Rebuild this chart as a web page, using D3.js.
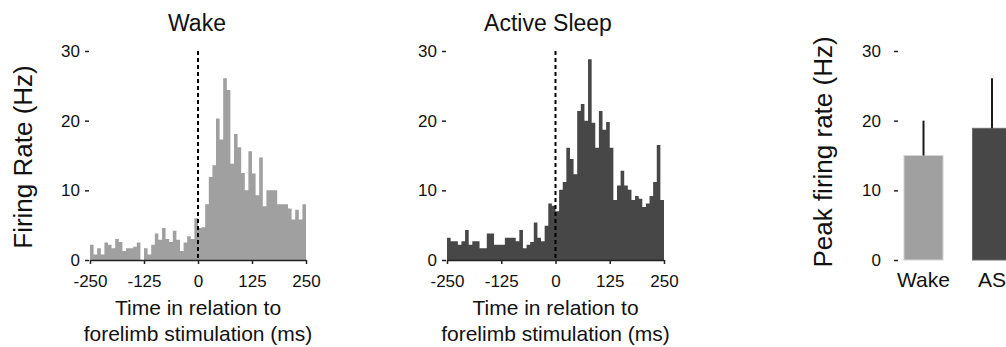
<!DOCTYPE html>
<html lang="en">
  <head>
    <meta charset="utf-8">
    <title>Firing rate</title>
    <script src="https://cdn.jsdelivr.net/npm/d3@7"></script>
    <style>
      body { margin: 0; background: #fff; }
      svg text { font-family: 'Liberation Sans', Arial, sans-serif; fill: #111; }
    </style>
  </head>

  <body>
    <div id='main-chart'></div>

    <script type='text/javascript'>
      // firing rate per bin (60 bins from -250 to 250 ms)
      let wake_rates = [
        2.2, 0.8, 1.7, 0.8, 2.5, 2.2, 1.7, 3.0, 2.6, 1.3,
        1.7, 1.7, 1.9, 2.5, 0.0, 1.7, 0.8, 2.2, 3.8, 2.9,
        4.6, 3.0, 2.6, 4.2, 2.9, 1.3, 2.5, 3.4, 3.0, 6.0,
        4.6, 4.7, 8.0, 11.9, 13.6, 20.3, 17.3, 26.1, 24.4, 13.8,
        18.1, 16.2, 12.5, 10.0, 15.6, 12.4, 9.3, 14.7, 7.7, 10.0,
        10.0, 10.0, 8.0, 8.0, 8.0, 7.4, 5.8, 7.2, 5.8, 8.0
      ]
      let as_rates = [
        3.2, 2.7, 2.7, 2.2, 2.7, 4.3, 2.2, 2.7, 2.7, 1.7,
        1.7, 3.8, 3.8, 2.2, 2.2, 2.2, 3.2, 3.2, 3.2, 2.7,
        4.3, 1.7, 2.2, 2.6, 5.4, 3.2, 2.7, 4.9, 8.1, 7.8,
        7.0, 10.1, 11.2, 16.1, 14.5, 12.3, 21.4, 22.4, 20.0, 28.8,
        19.7, 16.1, 21.4, 18.7, 19.8, 16.1, 8.6, 10.7, 12.8, 10.7,
        10.1, 8.6, 9.2, 8.8, 7.6, 8.1, 9.2, 11.2, 16.5, 8.6
      ]
      let time_ticks = [-250, -125, 0, 125, 250]
      let rate_ticks = [0, 10, 20, 30]

      // peak firing rate summary
      let states = ['Wake', 'AS']
      let peak_means = [15.0, 18.9]
      let peak_errors = [5.0, 7.2]

      let width = 1006
      let height = 347
      let bin_width = 500 / 60

      let canvas = d3.select('#main-chart').append('svg')
        .attr('width', width)
        .attr('height', height)

      let scale_y = d3.scaleLinear()
        .domain([0, 30])
        .range([260, 51])

      function draw_histogram(rates, left, right, colour, title, title_x) {
        let scale_x = d3.scaleLinear()
          .domain([-250, 250])
          .range([left, right])

        let g = canvas.append('g')

        // one path per histogram so neighbouring bins don't leave seams
        let outline = d3.path()
        outline.moveTo(scale_x(-250), scale_y(0))
        rates.forEach((d, i) => {
          outline.lineTo(scale_x(-250 + i * bin_width), scale_y(d))
          outline.lineTo(scale_x(-250 + (i + 1) * bin_width), scale_y(d))
        })
        outline.lineTo(scale_x(250), scale_y(0))
        outline.closePath()

        g.append('path')
          .attr('d', outline.toString())
          .style('fill', colour)

        // stimulation onset
        g.append('line')
          .attr('x1', scale_x(0))
          .attr('x2', scale_x(0))
          .attr('y1', scale_y(30))
          .attr('y2', scale_y(0))
          .attr('stroke', '#000')
          .attr('stroke-width', 2)
          .attr('stroke-dasharray', '4,3')

        let x_axis = d3.axisBottom(scale_x)
          .tickValues(time_ticks)
          .tickFormat((d) => String(d))
          .tickSize(4)
          .tickSizeOuter(0)
          .tickPadding(11)
        let xg = g.append('g')
          .attr('transform', 'translate(0,' + scale_y(0) + ')')
          .call(x_axis)
        xg.selectAll('path,line').attr('stroke', '#222').attr('stroke-width', 1.5)
        xg.selectAll('text').attr('font-size', '17px').attr('fill', '#111')

        let y_axis = d3.axisLeft(scale_y)
          .tickValues(rate_ticks)
          .tickSize(4)
          .tickPadding(5)
        let yg = g.append('g')
          .attr('transform', 'translate(' + (left - 1) + ',0)')
          .call(y_axis)
        yg.select('.domain').remove()
        yg.selectAll('line').attr('stroke', '#222').attr('stroke-width', 1.5)
        yg.selectAll('text').attr('font-size', '17px').attr('fill', '#111')

        g.append('text')
          .attr('x', title_x)
          .attr('y', 31)
          .attr('text-anchor', 'middle')
          .attr('font-size', '23px')
          .text(title)

        let mid = (left + right) / 2
        g.append('text')
          .attr('x', mid)
          .attr('y', 315)
          .attr('text-anchor', 'middle')
          .attr('font-size', '21px')
          .text('Time in relation to')
        g.append('text')
          .attr('x', mid)
          .attr('y', 341)
          .attr('text-anchor', 'middle')
          .attr('font-size', '21px')
          .text('forelimb stimulation (ms)')
      }

      draw_histogram(wake_rates, 90, 306, '#a0a0a0', 'Wake', 197)
      draw_histogram(as_rates, 447, 664, '#474747', 'Active Sleep', 548)

      canvas.append('text')
        .attr('transform', 'translate(32,157) rotate(-90)')
        .attr('text-anchor', 'middle')
        .attr('font-size', '26px')
        .text('Firing Rate (Hz)')

      // peak firing rate bar chart
      let scale_band = d3.scaleBand()
        .domain(states)
        .range([889.25, 1026.25])
        .paddingInner(0.43)
        .paddingOuter(0.215)

      let bar_colours = ['#a0a0a0', '#474747']
      let bar_edges = ['#d4d4d4', '#6a6a6a']
      let peaks = states.map((s, i) => ({state: s, mean: peak_means[i], err: peak_errors[i], i: i}))

      canvas.selectAll('.peak-bar')
        .data(peaks)
        .enter()
        .append('rect')
        .attr('class', 'peak-bar')
        .attr('x', (d) => scale_band(d.state))
        .attr('y', (d) => scale_y(d.mean))
        .attr('width', scale_band.bandwidth())
        .attr('height', (d) => scale_y(0) - scale_y(d.mean))
        .style('fill', (d) => bar_colours[d.i])
        .style('stroke', (d) => bar_edges[d.i])
        .style('stroke-width', 1)

      canvas.selectAll('.peak-err')
        .data(peaks)
        .enter()
        .append('line')
        .attr('class', 'peak-err')
        .attr('x1', (d) => scale_band(d.state) + scale_band.bandwidth() / 2)
        .attr('x2', (d) => scale_band(d.state) + scale_band.bandwidth() / 2)
        .attr('y1', (d) => scale_y(d.mean))
        .attr('y2', (d) => scale_y(d.mean + d.err))
        .attr('stroke', '#1a1a1a')
        .attr('stroke-width', 2)

      let bar_y_axis = d3.axisLeft(scale_y)
        .tickValues(rate_ticks)
        .tickSize(4)
        .tickPadding(13)
      let byg = canvas.append('g')
        .attr('transform', 'translate(898,0)')
        .call(bar_y_axis)
      byg.select('.domain').remove()
      byg.selectAll('line').attr('stroke', '#222').attr('stroke-width', 1.5)
      byg.selectAll('text').attr('font-size', '17px').attr('fill', '#111')

      let bar_x_axis = d3.axisBottom(scale_band).tickSize(0).tickPadding(12)
      let bxg = canvas.append('g')
        .attr('transform', 'translate(0,' + scale_y(0) + ')')
        .call(bar_x_axis)
      bxg.select('.domain').remove()
      bxg.selectAll('text').attr('font-size', '21px').attr('fill', '#111')

      canvas.append('text')
        .attr('transform', 'translate(832,152) rotate(-90)')
        .attr('text-anchor', 'middle')
        .attr('font-size', '26px')
        .text('Peak firing rate (Hz)')
    </script>
  </body>
</html>
